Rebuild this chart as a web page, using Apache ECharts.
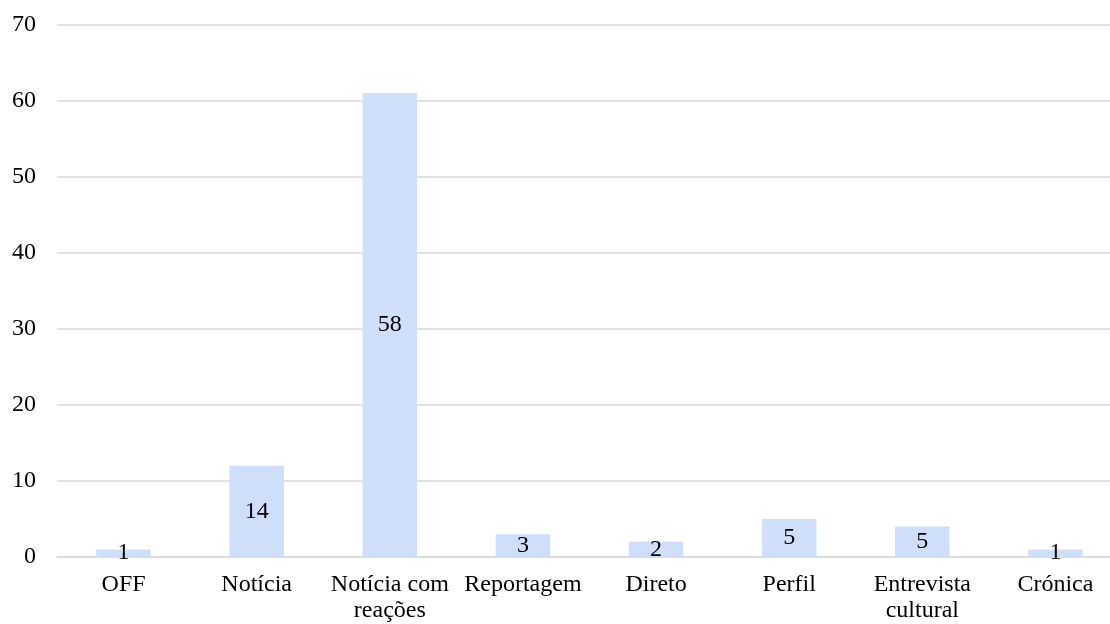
<!DOCTYPE html>
<html>
<head>
<meta charset="utf-8">
<script src="https://cdn.jsdelivr.net/npm/echarts@6/dist/echarts.min.js"></script>
<style>
html, body { margin: 0; padding: 0; background: #fff; overflow: hidden; }
/* plot runs slightly past the right edge, as in the original crop */
#chart { width: 1122px; height: 624px; }
</style>
</head>
<body>
<div id="chart"></div>
<script>
var categories = ['OFF', 'Notícia', 'Notícia com\nreações', 'Reportagem', 'Direto', 'Perfil', 'Entrevista\ncultural', 'Crónica'];
var barValues = [1, 12, 61, 3, 2, 5, 4, 1];
var labelValues = [1, 14, 58, 3, 2, 5, 5, 1];
var yTicks = [0, 10, 20, 30, 40, 50, 60, 70];

var dom = document.getElementById('chart');
var myChart = echarts.init(dom);
var font = 'Liberation Serif, Times New Roman, serif';

var option = {
    animation: false,
    textStyle: { fontFamily: font },
    grid: { left: 57, right: 0, top: 24.5, bottom: 67 },
    xAxis: {
        type: 'category',
        data: categories,
        axisTick: { show: false },
        axisLine: { lineStyle: { color: '#d9d9d9', width: 1.5 } },
        axisLabel: {
            color: '#000',
            fontFamily: font,
            fontSize: 24,
            lineHeight: 26,
            margin: 15,
            interval: 0
        }
    },
    yAxis: {
        type: 'value',
        min: yTicks[0],
        max: yTicks[yTicks.length - 1],
        interval: 10,
        axisLine: { show: false },
        axisTick: { show: false },
        splitLine: { lineStyle: { color: '#d9d9d9', width: 1.5 } },
        axisLabel: { color: '#000', fontFamily: font, fontSize: 24, margin: 21 }
    },
    series: [{
        type: 'bar',
        data: barValues,
        barWidth: '41%',
        itemStyle: { color: '#cfdffa' },
        label: {
            show: true,
            position: 'inside',
            color: '#000',
            fontFamily: font,
            fontSize: 24,
            formatter: function (p) { return labelValues[p.dataIndex]; }
        }
    }]
};
myChart.setOption(option, true);
</script>
</body>
</html>
